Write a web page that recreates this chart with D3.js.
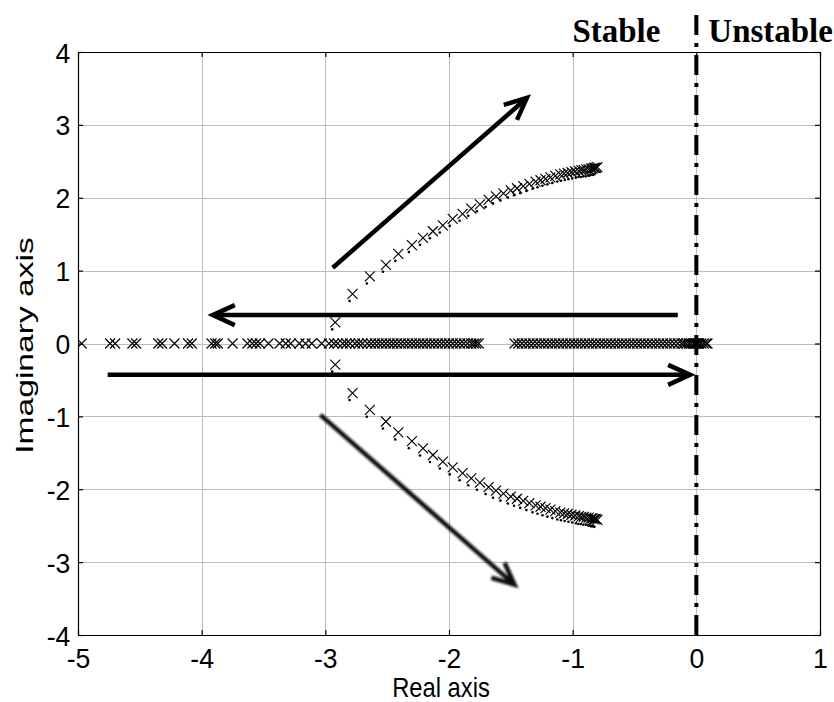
<!DOCTYPE html>
<html>
<head>
<meta charset="utf-8">
<script src="https://cdn.jsdelivr.net/npm/d3@7"></script>
<style>
  html, body { margin: 0; padding: 0; background: #fff; }
  svg { display: block; }
</style>
</head>
<body>
<svg id="chart" width="834" height="702"></svg>
<script>
// Axis ticks
const xTicks = [-5, -4, -3, -2, -1, 0, 1];
const yTicks = [-4, -3, -2, -1, 0, 1, 2, 3, 4];

// Real-axis closed-loop poles (imaginary part 0)
const realPoles = [-4.97, -4.74, -4.70, -4.56, -4.53, -4.35, -4.32, -4.22, -4.11, -4.08,
  -3.92, -3.89, -3.87, -3.75, -3.63, -3.59, -3.56, -3.53, -3.46, -3.37, -3.32, -3.28,
  -3.21, -3.16, -3.11, -3.03, -2.97, -2.93, -2.90, -2.86, -2.83, -2.80, -2.76, -2.73,
  -2.70, -2.66, -2.63, -2.60, -2.57, -2.54, -2.51, -2.48, -2.45, -2.42, -2.39, -2.36,
  -2.33, -2.30, -2.27, -2.24, -2.21, -2.18, -2.15, -2.12, -2.09, -2.06, -2.03, -2.00,
  -1.97, -1.94, -1.91, -1.88, -1.85, -1.82, -1.80, -1.78, -1.76,
  -1.47, -1.44, -1.41, -1.38, -1.35, -1.32, -1.29, -1.26, -1.23, -1.20, -1.17, -1.14,
  -1.11, -1.08, -1.05, -1.02, -0.99, -0.96, -0.93, -0.90, -0.87, -0.84, -0.81, -0.78,
  -0.75, -0.72, -0.69, -0.66, -0.63, -0.60, -0.57, -0.54, -0.51, -0.48, -0.45, -0.42,
  -0.39, -0.36, -0.33, -0.30, -0.27, -0.24, -0.21, -0.18, -0.15, -0.12, -0.10, -0.08,
  -0.06, -0.04, -0.02, -0.01, 0.00, 0.01, 0.02, 0.04, 0.06, 0.08, 0.09];

// Upper complex branch
const upperRe = [-2.92, -2.78, -2.64, -2.51, -2.41, -2.30, -2.21, -2.13, -2.05, -1.97,
  -1.89, -1.82, -1.75, -1.68, -1.62, -1.56, -1.50, -1.45, -1.40, -1.35, -1.30, -1.26,
  -1.22, -1.18, -1.14, -1.10, -1.07, -1.04, -1.01, -0.98, -0.95, -0.93, -0.91, -0.89,
  -0.87, -0.85, -0.84, -0.83, -0.82, -0.81, -0.80];
const upperIm = [0.29, 0.68, 0.92, 1.08, 1.23, 1.35, 1.45, 1.54, 1.62, 1.71,
  1.78, 1.85, 1.91, 1.97, 2.02, 2.06, 2.10, 2.13, 2.16, 2.19, 2.22, 2.24,
  2.26, 2.28, 2.30, 2.32, 2.33, 2.34, 2.35, 2.36, 2.37, 2.38, 2.38, 2.39,
  2.39, 2.40, 2.40, 2.41, 2.41, 2.41, 2.42];

// Lower complex branch
const lowerRe = [-2.92, -2.78, -2.64, -2.51, -2.41, -2.30, -2.21, -2.13, -2.05, -1.97,
  -1.89, -1.82, -1.75, -1.68, -1.62, -1.56, -1.50, -1.45, -1.40, -1.35, -1.30, -1.26,
  -1.22, -1.18, -1.14, -1.10, -1.07, -1.04, -1.01, -0.98, -0.95, -0.93, -0.91, -0.89,
  -0.87, -0.85, -0.84, -0.83, -0.82, -0.81, -0.80];
const lowerIm = [-0.29, -0.68, -0.91, -1.07, -1.22, -1.34, -1.44, -1.53, -1.62, -1.70,
  -1.78, -1.85, -1.91, -1.97, -2.02, -2.06, -2.10, -2.13, -2.16, -2.19, -2.22, -2.24,
  -2.26, -2.28, -2.30, -2.32, -2.33, -2.34, -2.35, -2.36, -2.37, -2.38, -2.38, -2.39,
  -2.39, -2.40, -2.40, -2.41, -2.41, -2.41, -2.42];

// Direction arrows in axis units, head at the "to" point
const arrows = [
  { from: [-2.94, 1.04], to: [-1.37, 3.37], soft: false },
  { from: [-0.15, 0.39], to: [-3.91, 0.39], soft: false },
  { from: [-4.76, -0.43], to: [-0.05, -0.43], soft: false },
  { from: [-3.04, -0.98], to: [-1.47, -3.31], soft: true }
];

const regionLabels = ["Stable", "Unstable"];

const svg = d3.select("#chart");
const W = 834, H = 702;
const m = { left: 78, top: 52, right: 14, bottom: 67 };
const pw = W - m.left - m.right, ph = H - m.top - m.bottom;

const x = d3.scaleLinear().domain([-5, 1]).range([m.left, m.left + pw]);
const y = d3.scaleLinear().domain([-4, 4]).range([m.top + ph, m.top]);

const sans = "Liberation Sans, Arial, sans-serif";
const serif = "Liberation Serif, Times New Roman, serif";

const defs = svg.append("defs");
defs.append("filter").attr("id", "soft")
  .attr("x", "-10%").attr("y", "-10%").attr("width", "120%").attr("height", "120%")
  .append("feGaussianBlur").attr("stdDeviation", 0.9);
defs.append("clipPath").attr("id", "plotClip")
  .append("rect").attr("x", m.left).attr("y", m.top).attr("width", pw).attr("height", ph);

// grid
const grid = svg.append("g").attr("stroke", "#bdbdbd").attr("stroke-width", 1);
grid.selectAll("line.gx").data(xTicks.slice(1, -1)).join("line")
  .attr("x1", d => Math.round(x(d)) + 0.5).attr("x2", d => Math.round(x(d)) + 0.5)
  .attr("y1", m.top).attr("y2", m.top + ph);
grid.selectAll("line.gy").data(yTicks.slice(1, -1)).join("line")
  .attr("y1", d => Math.round(y(d)) + 0.5).attr("y2", d => Math.round(y(d)) + 0.5)
  .attr("x1", m.left).attr("x2", m.left + pw);

// axes with inward ticks on all four sides
const tl = 5;
const fmt = d => String(d);
function styleAxis(g) {
  g.selectAll("path.domain").attr("stroke", "#000").attr("stroke-width", 1.2);
  g.selectAll(".tick line").attr("stroke", "#000").attr("stroke-width", 1.2);
}
const axB = svg.append("g").attr("transform", `translate(0,${m.top + ph})`)
  .call(d3.axisBottom(x).tickValues(xTicks).tickSize(-tl).tickSizeOuter(0).tickPadding(13).tickFormat(fmt));
const axL = svg.append("g").attr("transform", `translate(${m.left},0)`)
  .call(d3.axisLeft(y).tickValues(yTicks).tickSize(-tl).tickSizeOuter(0).tickPadding(8).tickFormat(fmt));
const axT = svg.append("g").attr("transform", `translate(0,${m.top})`)
  .call(d3.axisTop(x).tickValues(xTicks).tickSize(-tl).tickSizeOuter(0).tickFormat(""));
const axR = svg.append("g").attr("transform", `translate(${m.left + pw},0)`)
  .call(d3.axisRight(y).tickValues(yTicks).tickSize(-tl).tickSizeOuter(0).tickFormat(""));
[axB, axL, axT, axR].forEach(styleAxis);
[axB, axL].forEach(g => g.selectAll(".tick text")
  .attr("font-family", sans).attr("font-size", 28).attr("fill", "#000"));
axB.selectAll(".tick text").attr("transform", "scale(0.95,1)");
axL.selectAll(".tick text").attr("dy", "0.36em").attr("transform", "scale(0.95,1)");

// axis titles
svg.append("text").attr("transform", `translate(441,697) scale(0.88,1)`)
  .attr("text-anchor", "middle").attr("font-family", sans)
  .attr("font-size", 27).text("Real axis");
svg.append("text").attr("transform", `translate(33,${m.top + ph / 2 + 2}) rotate(-90) scale(1.4,1)`)
  .attr("text-anchor", "middle").attr("font-family", sans)
  .attr("font-size", 24).text("Imaginary axis");

// stability boundary at Re = 0
svg.append("line").attr("x1", x(0)).attr("x2", x(0)).attr("y1", 15).attr("y2", m.top + ph)
  .attr("stroke", "#000").attr("stroke-width", 4).attr("stroke-dasharray", "20,8,4,8");

// region labels
svg.append("text").attr("transform", `translate(${x(0) - 36},42) scale(0.97,1)`)
  .attr("text-anchor", "end").attr("font-family", serif).attr("font-weight", "bold")
  .attr("font-size", 34).text(regionLabels[0]);
svg.append("text").attr("transform", `translate(${x(0) + 12},42) scale(0.97,1)`)
  .attr("text-anchor", "start").attr("font-family", serif).attr("font-weight", "bold")
  .attr("font-size", 34).text(regionLabels[1]);

// pole markers
const plot = svg.append("g").attr("clip-path", "url(#plotClip)");
const xm = 5;
const cross = `M${-xm},${-xm}L${xm},${xm}M${-xm},${xm}L${xm},${-xm}`;
function drawPoles(pts, withTail) {
  const g = plot.append("g");
  g.selectAll("path").data(pts).join("path")
    .attr("transform", d => `translate(${x(d[0])},${y(d[1])})`)
    .attr("d", cross).attr("fill", "none").attr("stroke", "#000").attr("stroke-width", 1.15);
  if (withTail) {
    g.selectAll("circle").data(pts).join("circle")
      .attr("cx", d => x(d[0]) - 3).attr("cy", d => y(d[1]) + 7).attr("r", 1.3).attr("fill", "#000");
  }
}
drawPoles(realPoles.map(v => [v, 0]), false);
drawPoles(upperRe.map((v, i) => [v, upperIm[i]]), true);
drawPoles(lowerRe.map((v, i) => [v, lowerIm[i]]), true);

// arrows
arrows.forEach(a => {
  const x0 = x(a.from[0]), y0 = y(a.from[1]), x1 = x(a.to[0]), y1 = y(a.to[1]);
  const ang = Math.atan2(y1 - y0, x1 - x0);
  const hl = 22, hw = 10;
  const bx = x1 - hl * Math.cos(ang), by = y1 - hl * Math.sin(ang);
  const px = -Math.sin(ang) * hw, py = Math.cos(ang) * hw;
  const g = svg.append("g").attr("fill", "none").attr("stroke", a.soft ? "#111" : "#000")
    .attr("stroke-width", 4.5).attr("stroke-linecap", "butt").attr("stroke-linejoin", "miter");
  if (a.soft) g.attr("filter", "url(#soft)");
  g.append("line").attr("x1", x0).attr("y1", y0).attr("x2", x1 - 2 * Math.cos(ang)).attr("y2", y1 - 2 * Math.sin(ang));
  g.append("path").attr("d", `M${bx + px},${by + py}L${x1},${y1}L${bx - px},${by - py}`);
});
</script>
</body>
</html>
